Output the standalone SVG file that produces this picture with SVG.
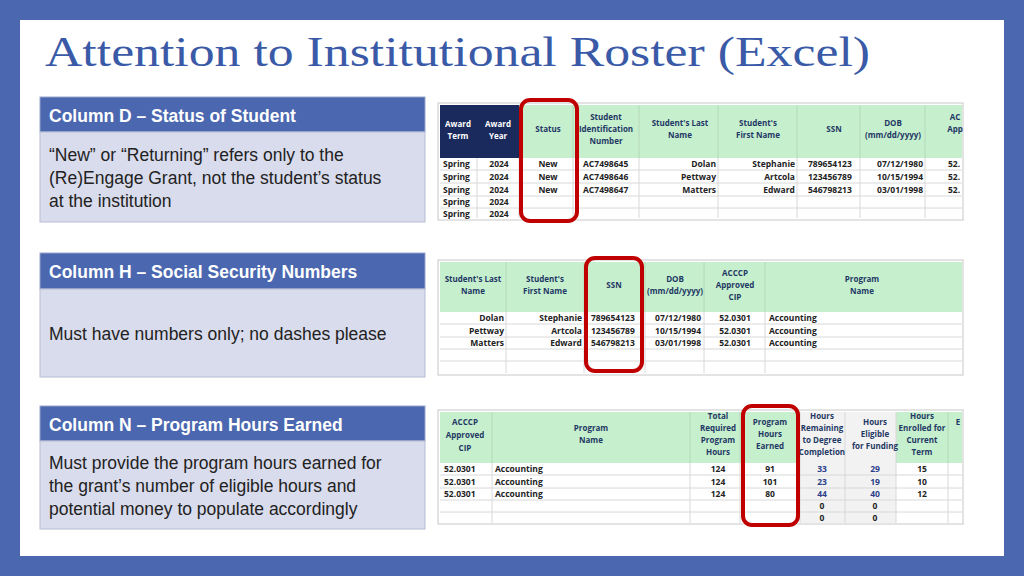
<svg xmlns="http://www.w3.org/2000/svg" width="1024" height="576" viewBox="0 0 1024 576">
<style>
.hb{fill:#4a67b0;stroke:#9aa6cc;stroke-width:1}
.bd{fill:#d9dcec;stroke:#b8bdd4;stroke-width:1}
.ht{font:bold 17.5px "Liberation Sans",Arial,sans-serif;fill:#fff}
.bt{font:17.5px "Liberation Sans",Arial,sans-serif;fill:#222}
.tb{fill:#fff;stroke:#c8c8c8;stroke-width:1}
.gh{fill:#c6efce}
.nh{fill:#1b2a5c}
.g{stroke:#b5d8b8;stroke-width:1}
.l{stroke:#d8d8d8;stroke-width:1}
.th{font:bold 8px "Open Sans","Liberation Sans",sans-serif;fill:#1f3864;text-anchor:middle}
.tw{font:bold 8px "Open Sans","Liberation Sans",sans-serif;fill:#fff;text-anchor:middle}
.c{font:bold 8.5px "Open Sans","Liberation Sans",sans-serif;fill:#222}
.m{text-anchor:middle}.r{text-anchor:end}
.bl{fill:#2b3f8a}
.red{fill:none;stroke:#c00000;stroke-width:4}
</style>
<rect width="1024" height="576" fill="#4a67b0"/>
<rect x="20" y="20" width="984" height="536" fill="#fff"/>
<text x="45" y="66" font-family="'Liberation Serif',serif" font-size="42" fill="#3a5aa8" textLength="825" lengthAdjust="spacingAndGlyphs">Attention to Institutional Roster (Excel)</text>

<g id="box1"><rect class="hb" x="40" y="97" width="385" height="35"/><rect class="bd" x="40" y="132" width="385" height="90"/>
<text class="ht" x="49" y="122">Column D – Status of Student</text>
<text class="bt" x="49" y="161">“New” or “Returning” refers only to the</text>
<text class="bt" x="49" y="184">(Re)Engage Grant, not the student’s status</text>
<text class="bt" x="49" y="207">at the institution</text></g>

<g id="box2"><rect class="hb" x="40" y="253" width="385" height="36"/><rect class="bd" x="40" y="289" width="385" height="88"/>
<text class="ht" x="49" y="278">Column H – Social Security Numbers</text>
<text class="bt" x="49" y="340">Must have numbers only; no dashes please</text></g>

<g id="box3"><rect class="hb" x="40" y="406" width="385" height="35"/><rect class="bd" x="40" y="441" width="385" height="88"/>
<text class="ht" x="49" y="431">Column N – Program Hours Earned</text>
<text class="bt" x="49" y="469">Must provide the program hours earned for</text>
<text class="bt" x="49" y="492">the grant’s number of eligible hours and</text>
<text class="bt" x="49" y="515">potential money to populate accordingly</text></g>

<g id="table1">
<rect class="tb" x="438" y="103" width="525" height="117"/>
<rect class="nh" x="440" y="105" width="79" height="53"/>
<rect class="gh" x="519" y="105" width="443" height="53"/>
<g class="g"><line x1="573" y1="105" x2="573" y2="158"/><line x1="639" y1="105" x2="639" y2="158"/><line x1="718" y1="105" x2="718" y2="158"/><line x1="797" y1="105" x2="797" y2="158"/><line x1="860" y1="105" x2="860" y2="158"/><line x1="925" y1="105" x2="925" y2="158"/></g>
<g class="l"><line x1="477" y1="158" x2="477" y2="218"/><line x1="519" y1="158" x2="519" y2="218"/><line x1="573" y1="158" x2="573" y2="218"/><line x1="639" y1="158" x2="639" y2="218"/><line x1="718" y1="158" x2="718" y2="218"/><line x1="797" y1="158" x2="797" y2="218"/><line x1="860" y1="158" x2="860" y2="218"/><line x1="925" y1="158" x2="925" y2="218"/>
<line x1="440" y1="170" x2="962" y2="170"/><line x1="440" y1="183" x2="962" y2="183"/><line x1="440" y1="196" x2="962" y2="196"/><line x1="440" y1="208" x2="962" y2="208"/></g>
<text class="tw" x="458" y="127">Award</text><text class="tw" x="458" y="139">Term</text>
<text class="tw" x="498" y="127">Award</text><text class="tw" x="498" y="139">Year</text>
<text class="th" x="548" y="132">Status</text>
<text class="th" x="606" y="120">Student</text><text class="th" x="606" y="132">Identification</text><text class="th" x="606" y="144">Number</text>
<text class="th" x="680" y="126">Student's Last</text><text class="th" x="680" y="138">Name</text>
<text class="th" x="758" y="126">Student's</text><text class="th" x="758" y="138">First Name</text>
<text class="th" x="834" y="132">SSN</text>
<text class="th" x="893" y="126">DOB</text><text class="th" x="893" y="138">(mm/dd/yyyy)</text>
<text class="th" x="955" y="120">AC</text><text class="th" x="955" y="132">App</text>
<text class="c" x="443" y="167">Spring</text><text class="c" x="443" y="180">Spring</text><text class="c" x="443" y="193">Spring</text><text class="c" x="443" y="205">Spring</text><text class="c" x="443" y="217">Spring</text>
<text class="c m" x="499" y="167">2024</text><text class="c m" x="499" y="180">2024</text><text class="c m" x="499" y="193">2024</text><text class="c m" x="499" y="205">2024</text><text class="c m" x="499" y="217">2024</text>
<text class="c m" x="548" y="167">New</text><text class="c m" x="548" y="180">New</text><text class="c m" x="548" y="193">New</text>
<text class="c" x="583" y="167">AC7498645</text><text class="c" x="583" y="180">AC7498646</text><text class="c" x="583" y="193">AC7498647</text>
<text class="c r" x="716" y="167">Dolan</text><text class="c r" x="716" y="180">Pettway</text><text class="c r" x="716" y="193">Matters</text>
<text class="c r" x="795" y="167">Stephanie</text><text class="c r" x="795" y="180">Artcola</text><text class="c r" x="795" y="193">Edward</text>
<text class="c" x="808" y="167">789654123</text><text class="c" x="808" y="180">123456789</text><text class="c" x="808" y="193">546798213</text>
<text class="c r" x="923" y="167">07/12/1980</text><text class="c r" x="923" y="180">10/15/1994</text><text class="c r" x="923" y="193">03/01/1998</text>
<text class="c" x="948" y="167">52.</text><text class="c" x="948" y="180">52.</text><text class="c" x="948" y="193">52.</text>
<rect class="red" x="521" y="100" width="56" height="121" rx="9"/>
</g>

<g id="table2">
<rect class="tb" x="438" y="260" width="525" height="115"/>
<rect class="gh" x="440" y="262" width="522" height="50"/>
<g class="g"><line x1="506" y1="262" x2="506" y2="312"/><line x1="584" y1="262" x2="584" y2="312"/><line x1="645" y1="262" x2="645" y2="312"/><line x1="704" y1="262" x2="704" y2="312"/><line x1="765" y1="262" x2="765" y2="312"/></g>
<g class="l"><line x1="506" y1="312" x2="506" y2="373"/><line x1="584" y1="312" x2="584" y2="373"/><line x1="645" y1="312" x2="645" y2="373"/><line x1="704" y1="312" x2="704" y2="373"/><line x1="765" y1="312" x2="765" y2="373"/>
<line x1="440" y1="324" x2="962" y2="324"/><line x1="440" y1="337" x2="962" y2="337"/><line x1="440" y1="349" x2="962" y2="349"/><line x1="440" y1="361" x2="962" y2="361"/></g>
<text class="th" x="473" y="282">Student's Last</text><text class="th" x="473" y="294">Name</text>
<text class="th" x="545" y="282">Student's</text><text class="th" x="545" y="294">First Name</text>
<text class="th" x="614" y="288">SSN</text>
<text class="th" x="675" y="282">DOB</text><text class="th" x="675" y="294">(mm/dd/yyyy)</text>
<text class="th" x="735" y="276">ACCCP</text><text class="th" x="735" y="288">Approved</text><text class="th" x="735" y="300">CIP</text>
<text class="th" x="862" y="282">Program</text><text class="th" x="862" y="294">Name</text>
<text class="c r" x="504" y="321">Dolan</text><text class="c r" x="504" y="334">Pettway</text><text class="c r" x="504" y="346">Matters</text>
<text class="c r" x="582" y="321">Stephanie</text><text class="c r" x="582" y="334">Artcola</text><text class="c r" x="582" y="346">Edward</text>
<text class="c" x="591" y="321">789654123</text><text class="c" x="591" y="334">123456789</text><text class="c" x="591" y="346">546798213</text>
<text class="c r" x="701" y="321">07/12/1980</text><text class="c r" x="701" y="334">10/15/1994</text><text class="c r" x="701" y="346">03/01/1998</text>
<text class="c m" x="735" y="321">52.0301</text><text class="c m" x="735" y="334">52.0301</text><text class="c m" x="735" y="346">52.0301</text>
<text class="c" x="769" y="321">Accounting</text><text class="c" x="769" y="334">Accounting</text><text class="c" x="769" y="346">Accounting</text>
<rect class="red" x="586" y="258" width="56" height="113" rx="9"/>
</g>

<g id="table3">
<rect class="tb" x="438" y="410" width="525" height="114"/>
<rect class="gh" x="440" y="412" width="360" height="51"/>
<rect fill="#f2f2f2" x="800" y="412" width="96" height="51"/>
<rect class="gh" x="896" y="412" width="66" height="51"/>
<rect fill="#f2f2f2" x="800" y="463" width="96" height="60"/>
<g class="g"><line x1="492" y1="412" x2="492" y2="463"/><line x1="690" y1="412" x2="690" y2="463"/><line x1="740" y1="412" x2="740" y2="463"/><line x1="948" y1="412" x2="948" y2="463"/></g>
<g class="l"><line x1="492" y1="463" x2="492" y2="523"/><line x1="690" y1="463" x2="690" y2="523"/><line x1="740" y1="463" x2="740" y2="523"/><line x1="800" y1="412" x2="800" y2="523"/><line x1="845" y1="412" x2="845" y2="523"/><line x1="896" y1="412" x2="896" y2="523"/><line x1="948" y1="463" x2="948" y2="523"/>
<line x1="440" y1="475" x2="962" y2="475"/><line x1="440" y1="488" x2="962" y2="488"/><line x1="440" y1="500" x2="962" y2="500"/><line x1="440" y1="512" x2="962" y2="512"/></g>
<text class="th" x="465" y="425">ACCCP</text><text class="th" x="465" y="438">Approved</text><text class="th" x="465" y="451">CIP</text>
<text class="th" x="591" y="431">Program</text><text class="th" x="591" y="443">Name</text>
<text class="th" x="718" y="419">Total</text><text class="th" x="718" y="431">Required</text><text class="th" x="718" y="443">Program</text><text class="th" x="718" y="455">Hours</text>
<text class="th" x="770" y="425">Program</text><text class="th" x="770" y="437">Hours</text><text class="th" x="770" y="449">Earned</text>
<text class="th" x="822" y="419">Hours</text><text class="th" x="822" y="431">Remaining</text><text class="th" x="822" y="443">to Degree</text><text class="th" x="822" y="455">Completion</text>
<text class="th" x="875" y="425">Hours</text><text class="th" x="875" y="437">Eligible</text><text class="th" x="875" y="449">for Funding</text>
<text class="th" x="922" y="419">Hours</text><text class="th" x="922" y="431">Enrolled for</text><text class="th" x="922" y="443">Current</text><text class="th" x="922" y="455">Term</text>
<text class="th" x="958" y="425">E</text>
<text class="c" x="444" y="472">52.0301</text><text class="c" x="444" y="485">52.0301</text><text class="c" x="444" y="497">52.0301</text>
<text class="c" x="495" y="472">Accounting</text><text class="c" x="495" y="485">Accounting</text><text class="c" x="495" y="497">Accounting</text>
<text class="c m" x="718" y="472">124</text><text class="c m" x="718" y="485">124</text><text class="c m" x="718" y="497">124</text>
<text class="c m" x="770" y="472">91</text><text class="c m" x="770" y="485">101</text><text class="c m" x="770" y="497">80</text>
<text class="c m bl" x="822" y="472">33</text><text class="c m bl" x="822" y="485">23</text><text class="c m bl" x="822" y="497">44</text><text class="c m" x="822" y="509">0</text><text class="c m" x="822" y="521">0</text>
<text class="c m bl" x="875" y="472">29</text><text class="c m bl" x="875" y="485">19</text><text class="c m bl" x="875" y="497">40</text><text class="c m" x="875" y="509">0</text><text class="c m" x="875" y="521">0</text>
<text class="c m" x="922" y="472">15</text><text class="c m" x="922" y="485">10</text><text class="c m" x="922" y="497">12</text>
<rect class="red" x="743" y="406" width="55" height="119" rx="9"/>
</g>
</svg>
